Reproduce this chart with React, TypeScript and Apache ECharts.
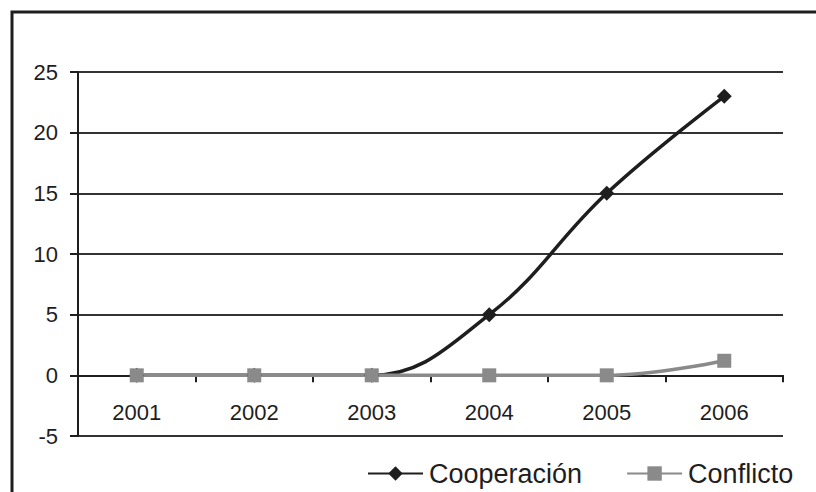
import React, { useEffect, useRef } from "react";
import * as echarts from "echarts";

const years = ["2001", "2002", "2003", "2004", "2005", "2006"];
const cooperacion = [0, 0, 0, 5, 15, 23];
const conflicto = [0, 0, 0, 0, 0, 1.2];
const yMin = -5;
const yMax = 25;
const yStep = 5;

export default function App() {
  const ref = useRef<HTMLDivElement>(null);
  useEffect(() => {
    if (!ref.current) return;
    const chart = echarts.init(ref.current, null, { renderer: "svg" });
    const font = "'Liberation Sans', Arial, sans-serif";
    const plotTop = 72;
    const plotBottom = 436;
    const zeroOffset = ((0 - yMin) / (yMax - yMin)) * (plotBottom - plotTop);
    chart.setOption({
      animation: false,
      backgroundColor: "#ffffff",
      textStyle: { fontFamily: font },
      graphic: [
        {
          type: "rect",
          shape: { x: 12, y: 12, width: 900, height: 600 },
          style: { fill: "none", stroke: "#1e1e1e", lineWidth: 3 },
          silent: true,
        },
      ],
      grid: { left: 78, right: 33, top: plotTop, bottom: 492 - plotBottom, containLabel: false },
      legend: {
        left: 362,
        top: 455,
        itemWidth: 55,
        itemHeight: 18,
        itemGap: 44,
        textStyle: { fontSize: 27, color: "#1e1e1e", fontFamily: font, padding: [0, 0, 0, 1] },
        data: ["Cooperación", "Conflicto"],
      },
      xAxis: [
        {
          type: "category",
          data: years,
          boundaryGap: true,
          offset: -zeroOffset,
          axisLine: { onZero: false, lineStyle: { color: "#1e1e1e", width: 2 } },
          axisTick: { show: true, inside: false, length: 7, lineStyle: { color: "#1e1e1e", width: 2 } },
          axisLabel: { fontSize: 22, color: "#1e1e1e", margin: 26, fontFamily: font },
          splitLine: { show: false },
        },
      ],
      yAxis: {
        type: "value",
        min: yMin,
        max: yMax,
        interval: yStep,
        axisLine: { show: true, lineStyle: { color: "#1e1e1e", width: 2 } },
        axisTick: { show: true, length: 8, lineStyle: { color: "#1e1e1e", width: 2 } },
        axisLabel: { fontSize: 22, color: "#1e1e1e", margin: 20, fontFamily: font },
        splitLine: { show: true, lineStyle: { color: "#333", width: 2 } },
      },
      series: [
        {
          name: "Cooperación",
          type: "line",
          data: cooperacion,
          smooth: 0.4,
          symbol: "diamond",
          symbolSize: 15,
          itemStyle: { color: "#1e1e1e" },
          lineStyle: { color: "#1e1e1e", width: 3.5 },
        },
        {
          name: "Conflicto",
          type: "line",
          data: conflicto,
          smooth: 0.4,
          symbol: "rect",
          symbolSize: 14,
          itemStyle: { color: "#8a8a8a" },
          lineStyle: { color: "#8a8a8a", width: 3.5 },
        },
      ],
    });
    return () => chart.dispose();
  }, []);
  return (
    <div
      ref={ref}
      style={{ position: "fixed", left: 0, top: 0, width: 816, height: 492 }}
    />
  );
}
